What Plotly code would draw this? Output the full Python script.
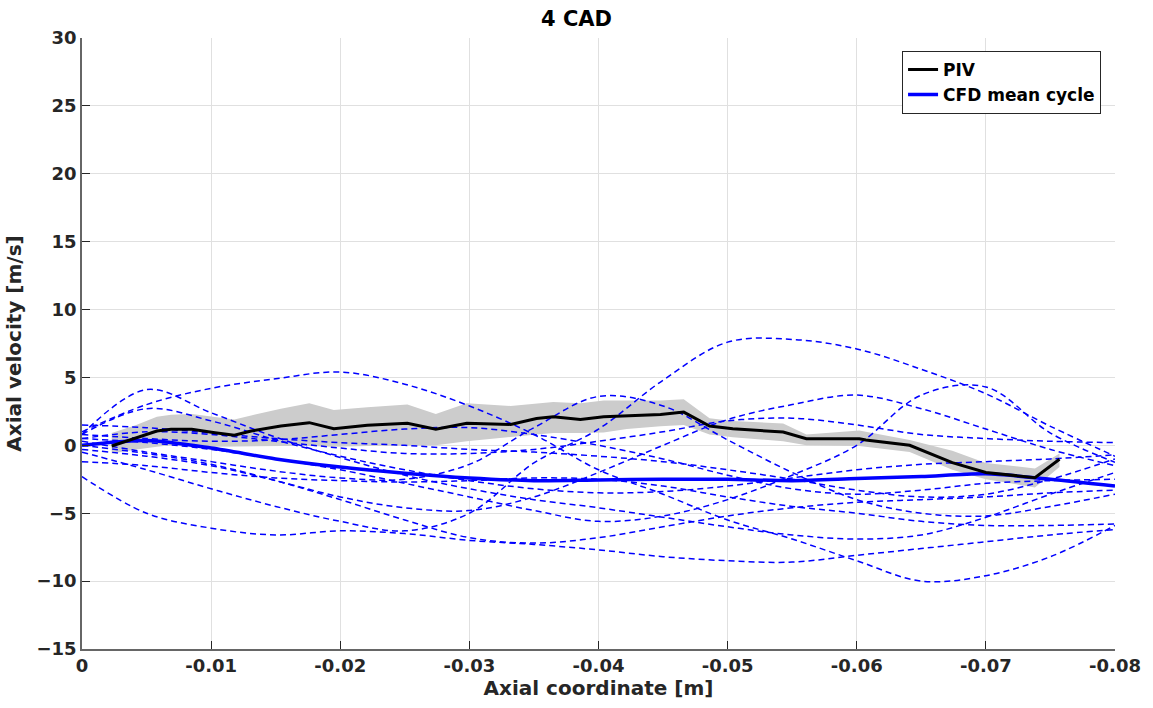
import plotly.graph_objects as go

# ---------------- data ----------------
x_grid = [0.0, -0.005, -0.01, -0.015, -0.02, -0.025, -0.03, -0.035, -0.04,
          -0.045, -0.05, -0.055, -0.06, -0.065, -0.07, -0.075, -0.08]

cycle_a = [1.0, 3.0, 4.2, 4.9, 5.4, 4.5, 2.9, 0.8, -1.8, -3.6, -5.5, -6.9, -8.5, -10.0, -9.6, -8.2, -5.9]
cycle_b = [0.8, 4.1, 2.4, 0.6, -0.9, -2.2, -3.2, -4.0, -4.6, -5.3, -6.0, -6.6, -6.9, -6.6, -5.3, -3.6, -2.0]
cycle_c = [-0.5, -1.8, -3.2, -4.5, -5.6, -6.3, -5.0, -1.3, 1.2, 4.8, 7.6, 7.8, 7.1, 5.6, 3.8, 1.4, -0.8]
cycle_d = [0.3, -0.5, -1.2, -1.9, -2.4, -2.5, -1.4, 1.3, 3.6, 2.9, 0.4, -2.0, -4.0, -5.0, -5.2, -4.5, -3.6]
cycle_e = [-0.3, -0.8, -1.5, -2.6, -3.8, -4.6, -4.8, -3.8, -2.0, 0.0, 1.9, 3.0, 3.7, 2.7, 1.2, -0.3, -1.5]
cycle_f = [0.5, 0.2, -0.3, -1.0, -1.8, -2.8, -3.8, -4.8, -5.6, -5.2, -4.0, -2.2, 0.0, 3.7, 4.3, 0.9, -1.25]
cycle_g = [-2.3, -5.0, -6.1, -6.6, -6.3, -6.5, -7.0, -7.3, -7.7, -8.2, -8.5, -8.6, -8.1, -7.6, -7.1, -6.6, -6.2]
cycle_h = [0.0, -0.6, -1.4, -2.6, -4.0, -5.5, -6.8, -7.2, -6.8, -6.0, -5.2, -4.6, -4.2, -4.0, -3.8, -3.5, -3.3]
cycle_i = [1.5, 1.3, 0.9, 0.5, 0.2, 0.0, -0.3, -0.5, -0.8, -1.2, -1.8, -2.5, -3.3, -3.8, -3.6, -2.5, -1.0]
cycle_j = [0.5, 1.0, 0.8, 0.3, -0.2, -0.6, -0.6, -0.3, 0.3, 1.0, 1.8, 2.0, 1.5, 0.8, 0.5, 0.3, 0.2]
cycle_k = [-1.2, -1.5, -2.0, -2.4, -2.6, -2.7, -2.6, -2.4, -2.5, -3.0, -3.8, -4.5, -5.0, -5.6, -5.9, -5.9, -5.8]
cycle_l = [0.8, 0.5, 0.3, 0.4, 0.8, 1.2, 1.3, 0.8, 0.0, -1.0, -2.2, -3.2, -3.6, -3.3, -2.8, -2.6, -2.5]
cycle_m = [0.8, 2.7, 1.8, 0.4, -0.8, -1.8, -2.6, -3.2, -3.5, -3.4, -3.0, -2.4, -1.8, -1.4, -1.2, -1.0, -0.7]

cycles = [cycle_a, cycle_b, cycle_c, cycle_d, cycle_e, cycle_f, cycle_g,
          cycle_h, cycle_i, cycle_j, cycle_k, cycle_l, cycle_m]

cfd_mean = [0.0, 0.35, -0.2, -1.0, -1.6, -2.05, -2.4, -2.6, -2.55, -2.5, -2.5, -2.6, -2.45, -2.3, -2.1, -2.5, -3.0]

piv_x = [-0.0023, -0.0042, -0.0058, -0.0069, -0.0085, -0.0103, -0.0118, -0.0131, -0.0154,
         -0.0176, -0.0195, -0.0221, -0.0252, -0.0274, -0.0298, -0.0332, -0.0352, -0.0365,
         -0.0386, -0.0404, -0.0422, -0.0448, -0.0466, -0.0486, -0.0504, -0.0543, -0.0561,
         -0.0602, -0.0607, -0.0641, -0.0674, -0.0700, -0.0738, -0.0757]
piv_v = [-0.05, 0.57, 1.05, 1.18, 1.18, 0.93, 0.74, 1.05, 1.42,
         1.67, 1.22, 1.47, 1.62, 1.18, 1.62, 1.54, 1.98, 2.11,
         1.91, 2.11, 2.16, 2.28, 2.45, 1.42, 1.22, 0.98, 0.49,
         0.49, 0.39, 0.0, -1.27, -2.0, -2.38, -1.03]
piv_upper = [0.9, 1.5, 2.1, 2.25, 2.3, 2.1, 1.9, 2.2, 2.7,
             3.1, 2.6, 2.8, 3.0, 2.3, 3.1, 2.9, 3.1, 3.2,
             3.1, 3.3, 3.3, 3.3, 3.4, 2.0, 1.8, 1.6, 0.8,
             1.1, 1.0, 0.4, -0.4, -1.3, -1.7, -0.6]
piv_lower = [-0.6, -0.3, -0.1, 0.0, 0.0, -0.1, -0.1, -0.05, -0.05,
             -0.05, -0.1, -0.05, 0.0, 0.0, 0.3, 0.6, 0.8, 0.9,
             0.9, 0.95, 1.2, 1.4, 1.5, 0.8, 0.6, 0.3, 0.0,
             -0.05, -0.15, -0.5, -1.8, -2.5, -3.1, -1.6]

x_ticks = [0, -0.01, -0.02, -0.03, -0.04, -0.05, -0.06, -0.07, -0.08]
x_tick_labels = ["0", "-0.01", "-0.02", "-0.03", "-0.04", "-0.05", "-0.06", "-0.07", "-0.08"]
y_ticks = [-15, -10, -5, 0, 5, 10, 15, 20, 25, 30]

# ---------------- figure ----------------
FONT = "DejaVu Sans"
fig = go.Figure()

# PIV uncertainty band
fig.add_trace(go.Scatter(
    x=piv_x + piv_x[::-1], y=piv_upper + piv_lower[::-1],
    fill="toself", fillcolor="#cccccc", line=dict(width=0),
    mode="lines", hoverinfo="skip", showlegend=False))

# CFD individual cycles
for cyc in cycles:
    fig.add_trace(go.Scatter(
        x=x_grid, y=cyc, mode="lines",
        line=dict(color="#0000ff", width=1.5, dash="6px,4px", shape="spline", smoothing=1.0),
        showlegend=False, hoverinfo="skip"))

# CFD mean cycle
fig.add_trace(go.Scatter(
    x=x_grid, y=cfd_mean, mode="lines", name="CFD mean cycle",
    line=dict(color="#0000ff", width=3.5, shape="spline", smoothing=0.8),
    legendrank=2))

# PIV
fig.add_trace(go.Scatter(
    x=piv_x, y=piv_v, mode="lines", name="PIV",
    line=dict(color="#000000", width=3), legendrank=1))

axis_common = dict(
    showgrid=True, gridcolor="#e0e0e0", gridwidth=1,
    zeroline=False, showline=True, linecolor="#666666", linewidth=1.5,
    ticks="inside", ticklen=8, tickcolor="#262626", tickwidth=1,
    tickfont=dict(family=FONT, size=18, color="#262626", weight="bold"),
)

fig.update_layout(
    width=1153, height=708,
    margin=dict(l=82, r=35, t=38, b=58),
    paper_bgcolor="white", plot_bgcolor="white",
    title=dict(text="<b>4 CAD</b>", x=0.5, xanchor="center", y=0.974, yanchor="middle",
               font=dict(family=FONT, size=21, color="#000000")),
    xaxis=dict(range=[0, -0.08], tickvals=x_ticks, ticktext=x_tick_labels,
               title=dict(text="<b>Axial coordinate [m]</b>", standoff=6,
                          font=dict(family=FONT, size=20, color="#262626")),
               **axis_common),
    yaxis=dict(range=[-15, 30], tickvals=y_ticks,
               title=dict(text="<b>Axial velocity [m/s]</b>", standoff=10,
                          font=dict(family=FONT, size=20, color="#262626")),
               **axis_common),
    legend=dict(x=0.9865, y=0.979, xanchor="right", yanchor="top",
                bgcolor="white", bordercolor="#262626", borderwidth=1,
                font=dict(family=FONT, size=17, color="#000000", weight="bold"),
                itemwidth=30, tracegroupgap=0),
    showlegend=True,
)

fig.write_html("out.html")
